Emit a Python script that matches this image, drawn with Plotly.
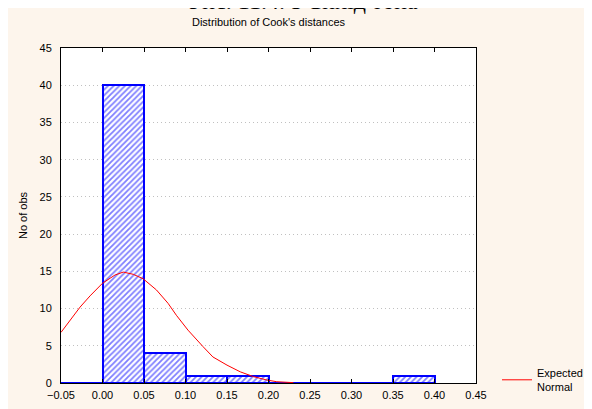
import plotly.graph_objects as go

# Histogram bins (left edges) and counts
bin_left = [-0.05, 0.00, 0.05, 0.10, 0.15, 0.20, 0.25, 0.30, 0.35]
bin_width = 0.05
counts = [0, 40, 4, 1, 1, 0, 0, 0, 1]

# Expected normal curve
norm_x = [-0.05, -0.027, -0.015, 0.0, 0.015, 0.025, 0.037, 0.049, 0.065, 0.079,
          0.089, 0.103, 0.121, 0.133, 0.150, 0.166, 0.182, 0.198, 0.21, 0.23]
norm_y = [6.8, 10.2, 11.7, 13.4, 14.5, 14.9, 14.6, 14.0, 12.5, 10.7,
          9.1, 7.1, 4.9, 3.5, 2.4, 1.5, 0.85, 0.4, 0.17, 0.05]

x_ticks = [-0.05, 0.0, 0.05, 0.10, 0.15, 0.20, 0.25, 0.30, 0.35, 0.40, 0.45]
y_ticks = [0, 5, 10, 15, 20, 25, 30, 35, 40, 45]

FONT = "Liberation Sans, Arial, sans-serif"
BEIGE = "#FDF5EC"

fig = go.Figure()
fig.add_trace(go.Bar(
    x=[b + bin_width / 2 for b in bin_left],
    y=counts,
    width=bin_width,
    marker=dict(
        color="white",
        line=dict(color="#0000FF", width=2),
        pattern=dict(shape="/", fgcolor="#0000FF", bgcolor="white", size=4, solidity=0.45),
    ),
    showlegend=False,
))
fig.add_trace(go.Scatter(
    x=norm_x, y=norm_y, mode="lines",
    line=dict(color="#FF0000", width=1),
    name="Expected<br>Normal",
))

# figure pixel coordinates (page body adds an 8px offset)
L, T = 53, 40
W, H = 415, 335
FW, FH = 592, 409

def px_to_paper_x(p):
    return (p - L) / W

def px_to_paper_y(p):
    return (T + H - p) / H

fig.update_layout(
    width=FW, height=FH,
    margin=dict(l=L, r=FW - L - W, t=T, b=FH - T - H, autoexpand=False),
    paper_bgcolor=BEIGE,
    plot_bgcolor="white",
    font=dict(family=FONT, size=11, color="black"),
    bargap=0,
    title=dict(text="Distribution of Cook's distances", x=0.5, xref="paper",
               y=1 - 14 / FH, yref="container", yanchor="middle",
               font=dict(size=11, family=FONT)),
    xaxis=dict(range=[-0.05, 0.45], tickvals=x_ticks, tickformat=".2f",
               showgrid=False, zeroline=False, showline=True, linecolor="black",
               linewidth=1, mirror="ticks", ticks="inside", ticklen=4,
               tickcolor="black", tickfont=dict(size=11), ticklabelstandoff=2),
    yaxis=dict(range=[0, 45], tickvals=y_ticks, showgrid=True,
               gridcolor="#C0C0C0", griddash="1px,3px", gridwidth=1,
               zeroline=False, showline=True, linecolor="black", linewidth=1,
               mirror=True, ticks="", tickfont=dict(size=11), ticklabelstandoff=6,
               title=dict(text="No of obs", standoff=9, font=dict(size=11))),
    legend=dict(x=px_to_paper_x(489), y=px_to_paper_y(351), xanchor="left", yanchor="top",
                bgcolor="rgba(0,0,0,0)", font=dict(size=11), itemwidth=30),
    annotations=[
        dict(text="Рис. 11.4. З-вихід тона", xref="paper", yref="paper",
             x=px_to_paper_x(295), y=px_to_paper_y(7.5), xanchor="center", yanchor="bottom",
             showarrow=False, font=dict(family="Liberation Serif, Times New Roman, serif",
                                        size=24, color="black")),
    ],
)

fig.write_html(
    "out.html",
    post_script="document.querySelectorAll('.main-svg').forEach(function(s){s.style.overflow='visible';});",
)
